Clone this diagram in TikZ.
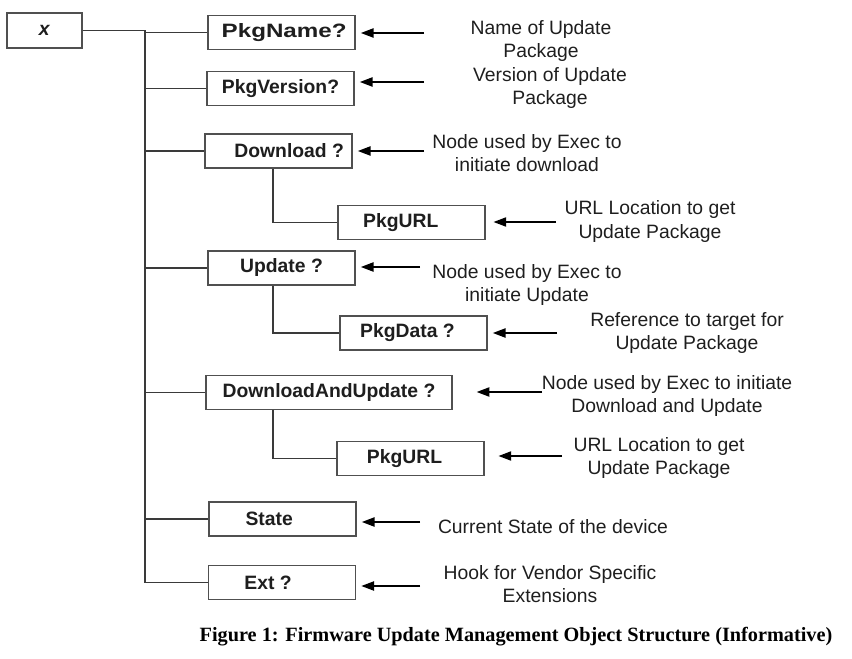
\documentclass[tikz,border=0pt]{standalone}
\usepackage{fontspec}
\setmainfont{Liberation Sans}
\newfontfamily\capfont{Liberation Serif}
\usetikzlibrary{arrows.meta,positioning}
\definecolor{ink}   {HTML}{1E1E1E}
\definecolor{frame} {HTML}{505050}
\definecolor{wire}  {HTML}{3A3A3A}
% move a box text sideways without moving the box
\newcommand\nudge[2]{\hspace*{#1}#2\hspace*{-#1}}
\tikzset{
  every node/.style={font=\fontsize{14.5}{17.3}\selectfont},
  % --- nodes
  obj/.style  = {draw=frame, line width=1.1pt, fill=white, inner sep=2pt, text=ink,
                 minimum width=110pt, minimum height=25.5pt,
                 font=\fontsize{14.5}{17.3}\selectfont\bfseries},
  wide/.style = {obj, minimum width=184.5pt},
  note/.style = {align=center, text=ink, inner sep=0pt},
  caption/.style = {font=\fontsize{15.2}{18}\capfont\bfseries, text=black, inner sep=0pt},
  % --- edges
  tree/.style = {draw=wire, line width=1pt},
  ptr/.style  = {-{Triangle[length=9.5pt,width=7pt]}, line width=0.9pt, draw=black,
                 shorten >=4pt},
}

\begin{document}
\begin{tikzpicture}[x=0.75pt,y=-0.75pt]
  \useasboundingbox (0,0) rectangle (852,659);
  % boxes
  \node[obj, minimum width=56pt, minimum height=26pt] (root) at (44.5,30.5) {\textit{x}};
  \node[obj] (pkgname)    at (281.5,32.5) {\nudge{2pt}{\scalebox{1.25}[1]{PkgName?}}};
  \node[obj] (pkgversion) at (280.5,88.5) {PkgVersion?};
  \node[obj] (download)   at (278.5,151)  {\nudge{8pt}{Download ?}};
  \node[obj] (dlurl)      at (411.5,222.5){\nudge{-8pt}{PkgURL}};
  \node[obj] (update)     at (281.5,268)  {Update ?};
  \node[obj] (pkgdata)    at (413.5,333)  {\nudge{-4.5pt}{PkgData ?}};
  \node[wide] (dlupdate)  at (329,392.5)  {DownloadAndUpdate ?};
  \node[obj] (dluurl)     at (410.5,458.5){\nudge{-4.5pt}{PkgURL}};
  \node[obj] (state)      at (282.5,519)  {\nudge{-10pt}{State}};
  \node[obj] (ext)        at (282,582.5)  {\nudge{-10.5pt}{Ext ?}};
  % tree
  \coordinate (trunk) at (145,30.5);
  \coordinate (sub) at (273,0);
  \draw[tree] (root) -- (trunk) -- (trunk |- ext) -- (ext);
  \draw[tree] (trunk |- pkgname) -- (pkgname);
  \draw[tree] (trunk |- pkgversion) -- (pkgversion);
  \draw[tree] (trunk |- download) -- (download);
  \draw[tree] (trunk |- update) -- (update);
  \draw[tree] (trunk |- dlupdate) -- (dlupdate);
  \draw[tree] (trunk |- state) -- (state);
  \draw[tree] (download.south -| sub) |- (dlurl);
  \draw[tree] (update.south -| sub) |- (pkgdata);
  \draw[tree] (dlupdate.south -| sub) |- (dluurl);
  % descriptions
  \node[note] (nName)    at (541,41)    {Name of Update\\Package};
  \node[note] (nVersion) at (550,88)    {Version of Update\\Package};
  \node[note] (nDown)    at (527,153)   {Node used by Exec to\\initiate download};
  \node[note] (nUrlA)    at (650,221.5) {URL Location to get\\Update Package};
  \node[note] (nUpdate)  at (527,285)   {Node used by Exec to\\initiate Update};
  \node[note] (nData)    at (687,333)   {Reference to target for\\Update Package};
  \node[note] (nBoth)    at (667,396)   {Node used by Exec to initiate\\Download and Update};
  \node[note] (nUrlB)    at (659,458)   {URL Location to get\\Update Package};
  \node[note] (nState)   at (553,527)   {Current State of the device};
  \node[note] (nExt)     at (550,584.5) {Hook for Vendor Specific\\Extensions};
  % pointers
  \coordinate (tName)    at (424,33);
  \coordinate (tVersion) at (424,82);
  \coordinate (tDown)    at (424,151);
  \coordinate (tUrlA)    at (556,222);
  \coordinate (tUpdate)  at (420,267);
  \coordinate (tData)    at (557,333);
  \coordinate (tBoth)    at (542,392);
  \coordinate (tUrlB)    at (562,456);
  \coordinate (tState)   at (420,522);
  \coordinate (tExt)     at (420,586);
  \draw[ptr] (tName) -- (tName -| pkgname.east);
  \draw[ptr] (tVersion) -- (tVersion -| pkgversion.east);
  \draw[ptr] (tDown) -- (tDown -| download.east);
  \draw[ptr, shorten >=6pt] (tUrlA) -- (tUrlA -| dlurl.east);
  \draw[ptr] (tUpdate) -- (tUpdate -| update.east);
  \draw[ptr] (tData) -- (tData -| pkgdata.east);
  \draw[ptr, shorten >=18pt] (tBoth) -- (tBoth -| dlupdate.east);
  \draw[ptr, shorten >=10.5pt] (tUrlB) -- (tUrlB -| dluurl.east);
  \draw[ptr] (tState) -- (tState -| state.east);
  \draw[ptr] (tExt) -- (tExt -| ext.east);
  % caption
  \node[caption] (cap) at (516,637)
    {Figure 1: Firmware Update Management Object Structure (Informative)};
\end{tikzpicture}
\end{document}
